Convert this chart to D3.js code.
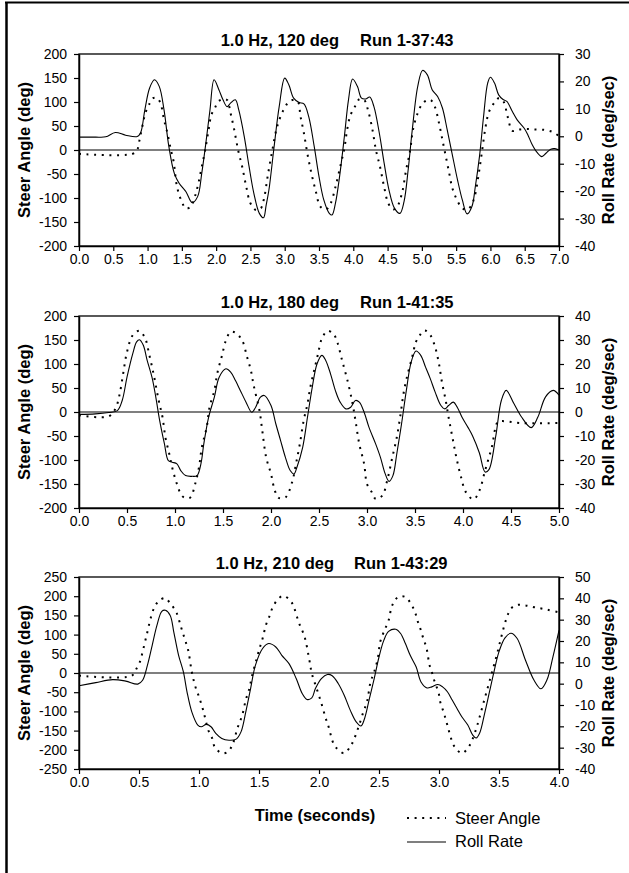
<!DOCTYPE html>
<html>
<head>
<meta charset="utf-8">
<script src="https://cdnjs.cloudflare.com/ajax/libs/d3/7.8.5/d3.min.js"></script>
<style>
  body { margin: 0; background: #fff; }
  text { font-family: "Liberation Sans", Arial, sans-serif; fill: #000; }
</style>
</head>
<body>
<div id="chart"></div>
<script>
// values: [time (s), value]
var steer1 = [[0,-8],[0.78,-8],[0.85,1],[0.88,19],[0.92,47],[0.97,78],[1.03,97],[1.08,108],[1.14,108],[1.19,97],[1.24,63],[1.29,35],[1.34,0],[1.38,-24],[1.43,-77],[1.50,-108],[1.56,-122],[1.63,-118],[1.69,-97],[1.74,-70],[1.79,-35],[1.84,0],[1.89,42],[1.93,73],[1.98,87],[2.03,101],[2.10,106],[2.16,104],[2.21,77],[2.26,45],[2.32,0],[2.38,-35],[2.44,-77],[2.50,-111],[2.58,-125],[2.65,-122],[2.70,-100],[2.75,-56],[2.82,0],[2.89,49],[2.97,80],[3.04,97],[3.11,104],[3.19,101],[3.23,70],[3.28,35],[3.33,-7],[3.39,-49],[3.45,-84],[3.52,-118],[3.60,-124],[3.67,-111],[3.74,-77],[3.82,-28],[3.87,3],[3.91,42],[3.96,73],[4.03,92],[4.09,106],[4.16,104],[4.22,80],[4.28,42],[4.33,0],[4.39,-35],[4.45,-77],[4.51,-111],[4.58,-124],[4.64,-118],[4.71,-90],[4.77,-42],[4.83,0],[4.87,42],[4.94,77],[5.01,97],[5.08,104],[5.13,104],[5.19,90],[5.25,56],[5.30,21],[5.35,-14],[5.40,-49],[5.44,-77],[5.49,-97],[5.57,-118],[5.64,-125],[5.71,-118],[5.77,-97],[5.83,-49],[5.88,0],[5.93,49],[5.98,80],[6.05,97],[6.12,108],[6.19,101],[6.25,70],[6.32,40],[6.39,42],[6.51,44],[6.63,43],[6.78,42],[6.90,38],[7.0,29]];
var roll1 = [[0,-0.3],[0.24,-0.3],[0.39,-0.2],[0.53,1.4],[0.68,0.4],[0.85,-0.1],[0.9,1.4],[0.96,9.6],[1.03,17.6],[1.10,20.6],[1.17,18.2],[1.24,9.6],[1.31,-3.7],[1.39,-13.5],[1.46,-17.1],[1.56,-20.2],[1.65,-24.2],[1.73,-22],[1.79,-13.5],[1.85,-2.5],[1.91,9.6],[1.97,20.6],[2.04,17],[2.10,13.3],[2.16,10.8],[2.21,12.1],[2.28,13.3],[2.33,9.6],[2.41,-0.1],[2.48,-11],[2.55,-20.8],[2.63,-28.1],[2.69,-29.7],[2.73,-25],[2.77,-19.5],[2.84,-4.9],[2.92,10.9],[3.00,21.2],[3.06,18.8],[3.13,13.9],[3.21,12.3],[3.28,11.8],[3.35,7.2],[3.43,-3.7],[3.50,-14.7],[3.57,-23.2],[3.65,-28.1],[3.69,-28.7],[3.74,-24.4],[3.80,-14.7],[3.87,-0.1],[3.93,13.3],[3.99,20.9],[4.06,18.2],[4.12,13.9],[4.18,13.6],[4.24,14.3],[4.30,10.9],[4.38,1.1],[4.45,-9.8],[4.52,-19.5],[4.60,-26.2],[4.68,-28.1],[4.74,-23.8],[4.80,-12.3],[4.86,2.3],[4.94,18.2],[5.01,24.0],[5.08,22.4],[5.15,17],[5.23,14.5],[5.30,10.3],[5.37,2.3],[5.44,-6.2],[5.52,-15.9],[5.59,-23.2],[5.66,-28.3],[5.73,-25.6],[5.78,-18.3],[5.84,-7.4],[5.90,7.2],[5.96,19.4],[6.00,21.5],[6.06,19.4],[6.12,15.1],[6.18,13.5],[6.24,12.7],[6.32,9.0],[6.39,6.0],[6.49,3.0],[6.54,0.8],[6.61,-3.1],[6.68,-5.9],[6.75,-7.4],[6.81,-6.2],[6.88,-4.7],[6.94,-4.5],[7.0,-5.0]];

var steer2 = [[0,-7],[0.31,-9],[0.38,7],[0.42,34],[0.46,80],[0.50,125],[0.56,160],[0.63,169],[0.69,153],[0.73,121],[0.78,76],[0.83,24],[0.87,-11],[0.90,-53],[0.94,-87],[0.97,-115],[1.02,-150],[1.07,-174],[1.11,-179],[1.16,-178],[1.21,-150],[1.25,-115],[1.28,-73],[1.33,-32],[1.36,10],[1.41,45],[1.44,80],[1.49,118],[1.53,149],[1.58,167],[1.63,165],[1.70,149],[1.75,115],[1.79,87],[1.82,55],[1.88,3],[1.91,-40],[1.95,-95],[2.00,-129],[2.04,-164],[2.08,-179],[2.15,-178],[2.22,-146],[2.26,-108],[2.30,-67],[2.34,-18],[2.38,17],[2.41,52],[2.45,87],[2.49,121],[2.53,153],[2.59,169],[2.65,163],[2.69,146],[2.74,108],[2.80,63],[2.85,17],[2.88,-18],[2.92,-67],[2.97,-108],[3.00,-150],[3.05,-167],[3.09,-181],[3.16,-174],[3.21,-143],[3.26,-98],[3.31,-53],[3.35,-4],[3.38,38],[3.42,76],[3.47,114],[3.51,146],[3.55,160],[3.60,170],[3.66,160],[3.71,135],[3.75,100],[3.78,63],[3.82,24],[3.85,-11],[3.89,-53],[3.93,-94],[3.98,-136],[4.03,-167],[4.11,-182],[4.17,-164],[4.23,-122],[4.30,-73],[4.36,-21],[4.40,-19],[4.61,-23],[5.0,-23]];
var roll2 = [[0,-1.0],[0.17,-0.8],[0.31,-0.2],[0.40,0.6],[0.45,4.8],[0.50,14.5],[0.56,24.3],[0.60,29.2],[0.63,30.1],[0.67,27.8],[0.71,21.5],[0.76,14.5],[0.80,6.2],[0.84,-3.5],[0.89,-13.3],[0.93,-20.2],[0.97,-20.9],[1.02,-21.6],[1.06,-24.4],[1.11,-26.5],[1.18,-26.8],[1.23,-26.5],[1.27,-21.6],[1.30,-13.3],[1.35,-2.2],[1.41,6.2],[1.46,14.5],[1.53,18.0],[1.58,16.6],[1.63,13.1],[1.68,9],[1.74,4.1],[1.80,-0.1],[1.84,2.0],[1.89,6.2],[1.93,6.9],[2.00,2.7],[2.05,-4.9],[2.10,-11.9],[2.15,-18.9],[2.20,-24.4],[2.24,-25.8],[2.27,-23],[2.33,-14.7],[2.38,-2.2],[2.43,10.4],[2.48,20.1],[2.53,23.6],[2.57,21.5],[2.62,15.9],[2.67,9],[2.72,4.1],[2.78,1.3],[2.83,2.0],[2.88,4.8],[2.92,4.1],[2.97,-0.1],[3.02,-6.3],[3.09,-13.3],[3.14,-18.9],[3.19,-25.8],[3.23,-28.9],[3.27,-26.5],[3.31,-17.5],[3.36,-4.9],[3.41,9],[3.46,20.8],[3.51,25.4],[3.56,23.6],[3.61,18.7],[3.66,13.8],[3.71,8.3],[3.77,2.7],[3.81,1.3],[3.85,2.7],[3.90,4.1],[3.94,2.0],[3.99,-2.2],[4.05,-6.3],[4.10,-10],[4.17,-17],[4.23,-25],[4.27,-24],[4.34,-10.4],[4.40,4.9],[4.45,9.0],[4.53,3.5],[4.61,-2.1],[4.71,-6.5],[4.78,-2.1],[4.86,6.3],[4.94,9],[5.0,7]];

var steer3 = [[0,-7],[0.44,-7],[0.48,12],[0.51,31],[0.53,55],[0.57,107],[0.60,146],[0.63,172],[0.67,189],[0.72,195],[0.76,181],[0.81,159],[0.85,120],[0.88,90],[0.91,59],[0.94,3],[0.97,-36],[1.00,-62],[1.03,-92],[1.05,-116],[1.08,-151],[1.11,-170],[1.13,-192],[1.19,-209],[1.24,-205],[1.28,-186],[1.32,-144],[1.36,-110],[1.39,-70],[1.42,-40],[1.44,-10],[1.47,25],[1.50,59],[1.53,90],[1.56,127],[1.59,150],[1.61,168],[1.65,189],[1.70,201],[1.76,189],[1.79,172],[1.83,133],[1.88,94],[1.92,33],[1.94,-1],[1.98,-40],[2.02,-79],[2.06,-122],[2.08,-140],[2.12,-183],[2.16,-200],[2.21,-209],[2.26,-192],[2.29,-174],[2.33,-140],[2.37,-101],[2.40,-75],[2.43,-23],[2.46,3],[2.49,38],[2.51,81],[2.54,107],[2.58,137],[2.61,176],[2.66,198],[2.72,198],[2.77,178],[2.80,159],[2.82,137],[2.84,120],[2.86,99],[2.88,81],[2.90,59],[2.92,22],[2.94,3],[2.96,-19],[2.98,-36],[3.00,-56],[3.01,-75],[3.03,-94],[3.05,-114],[3.07,-136],[3.10,-170],[3.13,-192],[3.19,-209],[3.24,-196],[3.28,-172],[3.32,-135],[3.36,-90],[3.40,-45],[3.44,0],[3.48,45],[3.52,95],[3.56,140],[3.60,168],[3.65,177],[3.72,176],[3.80,171],[3.90,165],[4.0,158]];
var roll3 = [[0,-1.0],[0.14,0.5],[0.28,1.9],[0.39,1.2],[0.49,-0.2],[0.53,1.6],[0.57,8.6],[0.61,18.0],[0.65,27.4],[0.69,33.9],[0.72,34.4],[0.76,32.0],[0.79,24.2],[0.83,13.3],[0.87,5.5],[0.90,-3.8],[0.94,-13.2],[0.99,-19.4],[1.02,-20.2],[1.06,-19.1],[1.10,-20.2],[1.14,-23.3],[1.19,-25.7],[1.25,-26.5],[1.31,-26],[1.35,-22.6],[1.39,-13.2],[1.43,-2.3],[1.47,8.6],[1.53,16.5],[1.58,18.8],[1.64,17.2],[1.69,13.3],[1.75,9.4],[1.81,2.4],[1.86,-4.6],[1.90,-7.4],[1.94,-6.7],[1.97,-2.3],[2.02,2.4],[2.07,4.3],[2.11,3.7],[2.16,0.1],[2.21,-5.4],[2.26,-12.4],[2.31,-17.9],[2.35,-19.8],[2.38,-16.3],[2.42,-7],[2.46,2.4],[2.50,12.5],[2.54,20.3],[2.58,24.5],[2.64,25.5],[2.68,23.5],[2.72,18.8],[2.76,13.3],[2.81,7.8],[2.85,0.8],[2.90,-2],[2.94,-1.5],[2.99,-0.4],[3.03,-1.5],[3.07,-3.8],[3.11,-7.7],[3.15,-11.6],[3.19,-15.5],[3.24,-19.4],[3.28,-24],[3.31,-25.5],[3.34,-23],[3.38,-14],[3.42,-4],[3.46,6],[3.50,15],[3.55,21.5],[3.60,23.6],[3.65,21.3],[3.72,11.1],[3.79,1.8],[3.85,-2.4],[3.90,1.8],[3.95,12.7],[4.0,25]];

var titleLeft = ["1.0 Hz, 120 deg", "1.0 Hz, 180 deg", "1.0 Hz, 210 deg"];
var titleRight = ["Run 1-37:43", "Run 1-41:35", "Run 1-43:29"];
var timeMax = [7, 5, 4];
var steerMax = [200, 200, 250];
var rollMin = [-40, -40, -40];
var rollMax = [30, 40, 50];
var legendLabels = ["Steer Angle", "Roll Rate"];

// layout
var W = 629, H = 873;
var left = 79, right = 559, plotH = 192;
var tops = [54, 316, 577];
var titleY = [46, 308, 569];
var titleSplit = [[339, 360], [339, 360], [334, 354]];

var svg = d3.select("#chart").append("svg")
  .attr("width", W)
  .attr("height", H);

// outer frame (only top and left edges are in view)
svg.append("line").attr("x1", 5).attr("x2", W).attr("y1", 2.5).attr("y2", 2.5)
  .attr("stroke", "#000").attr("stroke-width", 2);
svg.append("line").attr("x1", 6.5).attr("x2", 6.5).attr("y1", 2).attr("y2", H)
  .attr("stroke", "#000").attr("stroke-width", 2.5);

var dotted = "2,5.6";
var plain = d => String(d);   // keep ascii hyphen for negatives

function drawPanel(i, steer, roll) {
  var top = tops[i], bottom = top + plotH;
  var x = d3.scaleLinear().domain([0, timeMax[i]]).range([left, right]);
  var yS = d3.scaleLinear().domain([-steerMax[i], steerMax[i]]).range([bottom, top]);
  var yR = d3.scaleLinear().domain([rollMin[i], rollMax[i]]).range([bottom, top]);
  var g = svg.append("g");

  // plot frame
  g.append("rect")
    .attr("x", left).attr("y", top)
    .attr("width", right - left).attr("height", plotH)
    .attr("fill", "none").attr("stroke", "#000").attr("stroke-width", 1.3);

  // zero line
  g.append("line")
    .attr("x1", left).attr("x2", right)
    .attr("y1", yS(0)).attr("y2", yS(0))
    .attr("stroke", "#000").attr("stroke-width", 1.1);

  var leftAxis = d3.axisLeft(yS)
    .tickValues(d3.range(-steerMax[i], steerMax[i] + 1, 50))
    .tickFormat(plain)
    .tickSize(5).tickSizeOuter(0).tickPadding(7);
  var rightAxis = d3.axisRight(yR)
    .tickValues(d3.range(rollMin[i], rollMax[i] + 1, 10))
    .tickFormat(plain)
    .tickSize(5).tickSizeOuter(0).tickPadding(11);
  var bottomAxis = d3.axisBottom(x)
    .tickValues(d3.range(0, timeMax[i] + 0.01, 0.5))
    .tickFormat(d3.format(".1f"))
    .tickSize(5).tickSizeOuter(0).tickPadding(3);

  var ga = g.append("g").attr("transform", "translate(" + left + ",0)").call(leftAxis);
  var gr = g.append("g").attr("transform", "translate(" + right + ",0)").call(rightAxis);
  var gb = g.append("g").attr("transform", "translate(0," + bottom + ")").call(bottomAxis);
  [ga, gr, gb].forEach(function(a) {
    a.select(".domain").attr("stroke-width", 1.5);
    a.selectAll(".tick line").attr("stroke", "#000").attr("stroke-width", 1.2);
    a.selectAll(".tick text")
      .attr("font-family", "Liberation Sans, Arial, sans-serif")
      .attr("font-size", "14px")
      .attr("fill", "#000");
  });

  // title in two pieces
  g.append("text")
    .attr("x", titleSplit[i][0]).attr("y", titleY[i])
    .attr("text-anchor", "end")
    .attr("font-weight", "bold").attr("font-size", "16.5px")
    .text(titleLeft[i]);
  g.append("text")
    .attr("x", titleSplit[i][1]).attr("y", titleY[i])
    .attr("font-weight", "bold").attr("font-size", "16.5px")
    .text(titleRight[i]);

  // axis titles
  g.append("text")
    .attr("transform", "translate(30," + (top + plotH / 2) + ") rotate(-90)")
    .attr("text-anchor", "middle")
    .attr("font-weight", "bold").attr("font-size", "16.5px")
    .text("Steer Angle (deg)");
  g.append("text")
    .attr("transform", "translate(614," + (top + plotH / 2) + ") rotate(-90)")
    .attr("text-anchor", "middle")
    .attr("font-weight", "bold").attr("font-size", "16.5px")
    .text("Roll Rate (deg/sec)");

  var curve = d3.curveCatmullRom.alpha(0.5);
  var steerLine = d3.line().x(d => x(d[0])).y(d => yS(d[1])).curve(curve);
  var rollLine = d3.line().x(d => x(d[0])).y(d => yR(d[1])).curve(curve);

  g.append("path")
    .datum(roll)
    .attr("d", rollLine)
    .attr("fill", "none")
    .attr("stroke", "#000")
    .attr("stroke-width", 1.1);
  g.append("path")
    .datum(steer)
    .attr("d", steerLine)
    .attr("fill", "none")
    .attr("stroke", "#000")
    .attr("stroke-width", 2)
    .attr("stroke-dasharray", dotted);
}

drawPanel(0, steer1, roll1);
drawPanel(1, steer2, roll2);
drawPanel(2, steer3, roll3);

// x axis title + legend
svg.append("text")
  .attr("x", 315).attr("y", 821)
  .attr("text-anchor", "middle")
  .attr("font-weight", "bold").attr("font-size", "16.5px")
  .text("Time (seconds)");

var legend = svg.append("g");
legend.append("line")
  .attr("x1", 407).attr("x2", 446).attr("y1", 818).attr("y2", 818)
  .attr("stroke", "#000").attr("stroke-width", 2).attr("stroke-dasharray", dotted);
legend.append("line")
  .attr("x1", 407).attr("x2", 446).attr("y1", 842).attr("y2", 842)
  .attr("stroke", "#000").attr("stroke-width", 1.1);
legend.append("text")
  .attr("x", 455).attr("y", 824)
  .attr("font-size", "16.5px")
  .text(legendLabels[0]);
legend.append("text")
  .attr("x", 455).attr("y", 847)
  .attr("font-size", "16.5px")
  .text(legendLabels[1]);
</script>
</body>
</html>
